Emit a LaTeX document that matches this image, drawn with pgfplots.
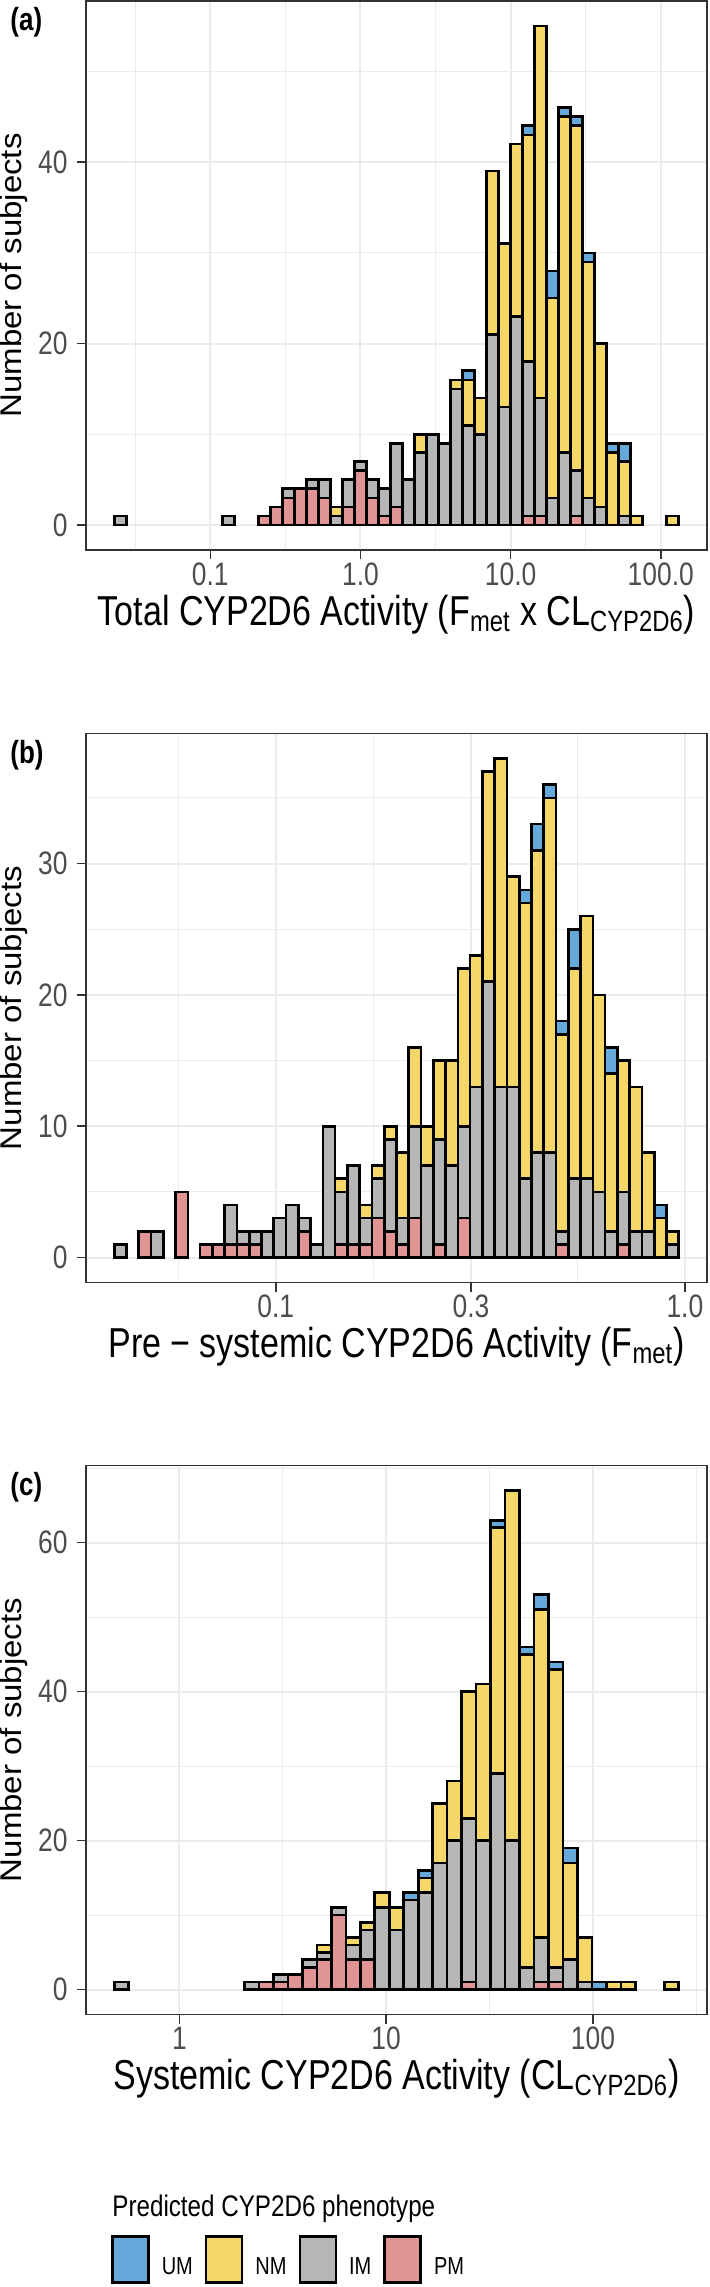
\documentclass[border=0pt]{standalone}
\usepackage{fontspec}
\setmainfont{Liberation Sans}
\usepackage{graphicx}
\usepackage{pgfplots}
\pgfplotsset{compat=1.18}
\usepackage{pgfplotstable}

\definecolor{cUM}{HTML}{64A9DA}
\definecolor{cNM}{HTML}{F4D766}
\definecolor{cIM}{HTML}{B6B6B6}
\definecolor{cPM}{HTML}{E09494}
\definecolor{gridc}{HTML}{EBEBEB}
\definecolor{framec}{HTML}{333333}
\definecolor{tickc}{HTML}{4D4D4D}

\newcommand{\vs}{1.23}
% tick label, axis title, rotated axis title, tag, legend text
\newcommand{\tl}[1]{{\fontsize{13.2}{15}\selectfont\color{tickc}\scalebox{1}[\vs]{#1}}}
\newcommand{\xt}[1]{{\fontsize{17}{20}\selectfont\scalebox{1}[\vs]{#1}}}
\newcommand{\yt}[1]{{\fontsize{15}{18}\selectfont\scalebox{1.1}[1]{#1}}}
\newcommand{\tg}[1]{{\fontsize{13}{15}\selectfont\bfseries\scalebox{1}[\vs]{#1}}}
\newcommand{\lt}[1]{{\fontsize{10}{12}\selectfont\scalebox{1}[\vs]{#1}}}

% Panel (a): x = log10 bin centre
\pgfplotstableread{
x pm im nm um
-1.60 0 1 0 0
-1.52 0 0 0 0
-1.44 0 0 0 0
-1.36 0 0 0 0
-1.28 0 0 0 0
-1.20 0 0 0 0
-1.12 0 0 0 0
-1.04 0 0 0 0
-0.96 0 0 0 0
-0.88 0 1 0 0
-0.80 0 0 0 0
-0.72 0 0 0 0
-0.64 1 0 0 0
-0.56 2 0 0 0
-0.48 3 1 0 0
-0.40 4 0 0 0
-0.32 4 1 0 0
-0.24 3 2 0 0
-0.16 0 1 1 0
-0.08 2 3 0 0
0.00 6 1 0 0
0.08 3 2 0 0
0.16 1 3 0 0
0.24 2 7 0 0
0.32 0 5 0 0
0.40 0 8 2 0
0.48 0 10 0 0
0.56 0 9 0 0
0.64 0 15 1 0
0.72 0 11 5 1
0.80 0 10 4 0
0.88 0 21 18 0
0.96 0 13 18 0
1.04 0 23 19 0
1.12 1 17 25 1
1.20 1 13 41 0
1.28 0 3 22 3
1.36 0 8 37 1
1.44 1 5 38 1
1.52 0 3 26 1
1.60 0 2 18 0
1.68 0 0 8 1
1.76 0 1 6 2
1.84 0 0 1 0
1.92 0 0 0 0
2.00 0 0 0 0
2.08 0 0 1 0
}\dataA

% Panel (b)
\pgfplotstableread{
x pm im nm um
-1.38 0 1 0 0
-1.35 0 0 0 0
-1.32 2 0 0 0
-1.29 0 2 0 0
-1.26 0 0 0 0
-1.23 5 0 0 0
-1.20 0 0 0 0
-1.17 1 0 0 0
-1.14 1 0 0 0
-1.11 1 3 0 0
-1.08 1 1 0 0
-1.05 1 1 0 0
-1.02 0 2 0 0
-0.99 0 3 0 0
-0.96 0 4 0 0
-0.93 2 1 0 0
-0.90 0 1 0 0
-0.87 0 10 0 0
-0.84 1 4 1 0
-0.81 1 6 0 0
-0.78 1 2 1 0
-0.75 3 3 1 0
-0.72 2 7 1 0
-0.69 1 2 5 0
-0.66 3 7 6 0
-0.63 0 7 3 0
-0.60 1 8 6 0
-0.57 0 7 8 0
-0.54 3 7 12 0
-0.51 0 13 10 0
-0.48 0 21 16 0
-0.45 0 13 25 0
-0.42 0 13 16 0
-0.39 0 6 21 1
-0.36 0 8 23 2
-0.33 0 8 27 1
-0.30 1 1 15 1
-0.27 0 6 16 3
-0.24 0 6 20 0
-0.21 0 5 15 0
-0.18 0 2 12 2
-0.15 1 4 10 0
-0.12 0 2 11 0
-0.09 0 2 6 0
-0.06 0 0 3 1
-0.03 0 1 1 0
}\dataB

% Panel (c)
\pgfplotstableread{
x pm im nm um
-0.28 0 1 0 0
-0.21 0 0 0 0
-0.14 0 0 0 0
-0.07 0 0 0 0
0.00 0 0 0 0
0.07 0 0 0 0
0.14 0 0 0 0
0.21 0 0 0 0
0.28 0 0 0 0
0.35 0 1 0 0
0.42 1 0 0 0
0.49 1 1 0 0
0.56 2 0 0 0
0.63 3 1 0 0
0.70 4 1 1 0
0.77 10 1 0 0
0.84 4 2 1 0
0.91 4 4 1 0
0.98 0 11 2 0
1.05 0 8 3 0
1.12 0 12 0 1
1.19 0 13 2 1
1.26 0 17 8 0
1.33 0 20 8 0
1.40 1 22 17 0
1.47 0 20 21 0
1.54 0 29 33 1
1.61 0 20 47 0
1.68 0 3 42 1
1.75 1 6 44 2
1.82 1 2 40 1
1.89 0 4 13 2
1.96 0 1 6 0
2.03 0 0 0 1
2.10 0 0 1 0
2.17 0 0 1 0
2.24 0 0 0 0
2.31 0 0 0 0
2.38 0 0 1 0
}\dataC

\pgfplotsset{
  histo/.style={
    scale only axis, width=310.5pt, height=274.5pt,
    anchor=north west,
    ybar stacked,
    axis line style={framec, line width=0.8pt},
    tick style={framec, line width=0.8pt},
    major tick length=4.5pt,
    minor tick length=0pt,
    tick align=outside,
    tick pos=left,
    grid=both,
    major grid style={gridc, line width=1pt},
    minor grid style={gridc, line width=0.5pt},
    xticklabel style={anchor=north, inner sep=0pt, yshift=-1.5pt},
    yticklabel style={anchor=east, inner sep=0pt, xshift=-4.5pt},
    every axis y label/.style={at={(rel axis cs:-0.1167,0.5)}, rotate=90, anchor=center, inner sep=0pt},
    every axis x label/.style={at={(rel axis cs:0.5,-0.1366)}, anchor=base, inner sep=0pt},
    ylabel={\yt{Number of subjects}},
    every axis plot/.append style={draw=black, line width=1.3pt},
  }
}

\begin{document}
\begin{tikzpicture}
\useasboundingbox (0pt,0pt) rectangle (354.5pt,-1143.5pt);

% ---------- (a)
\begin{axis}[histo, at={(43pt,-0.5pt)},
  xmin=-1.828, xmax=2.308, ymin=-2.75, ymax=57.75,
  bar width=0.08,
  xtick={-1,0,1,2}, xticklabels={\tl{0.1},\tl{1.0},\tl{10.0},\tl{100.0}},
  minor xtick={-1.5,-0.5,0.5,1.5},
  ytick={0,20,40}, yticklabels={\tl{0},\tl{20},\tl{40}},
  minor ytick={10,30,50},
  xlabel={\xt{Total CYP2D6 Activity (F\textsubscript{met} x CL\textsubscript{CYP2D6})}},
]
\addplot[fill=cPM] table[x=x,y=pm]{\dataA};
\addplot[fill=cIM] table[x=x,y=im]{\dataA};
\addplot[fill=cNM] table[x=x,y=nm]{\dataA};
\addplot[fill=cUM] table[x=x,y=um]{\dataA};
\end{axis}

% ---------- (b)
\begin{axis}[histo, at={(43pt,-366.75pt)},
  xmin=-1.464, xmax=0.054, ymin=-1.9, ymax=39.9,
  bar width=0.03,
  xtick={-1,-0.5229,0}, xticklabels={\tl{0.1},\tl{0.3},\tl{1.0}},
  minor xtick={-1.2386,-0.7614,-0.2614},
  ytick={0,10,20,30}, yticklabels={\tl{0},\tl{10},\tl{20},\tl{30}},
  minor ytick={5,15,25,35},
  xlabel={\xt{Pre − systemic CYP2D6 Activity (F\textsubscript{met})}},
]
\addplot[fill=cPM] table[x=x,y=pm]{\dataB};
\addplot[fill=cIM] table[x=x,y=im]{\dataB};
\addplot[fill=cNM] table[x=x,y=nm]{\dataB};
\addplot[fill=cUM] table[x=x,y=um]{\dataB};
\end{axis}

% ---------- (c)
\begin{axis}[histo, at={(43pt,-732.75pt)},
  xmin=-0.4515, xmax=2.5515, ymin=-3.35, ymax=70.35,
  bar width=0.07,
  xtick={0,1,2}, xticklabels={\tl{1},\tl{10},\tl{100}},
  minor xtick={0.5,1.5,2.5},
  ytick={0,20,40,60}, yticklabels={\tl{0},\tl{20},\tl{40},\tl{60}},
  minor ytick={10,30,50,70},
  xlabel={\xt{Systemic CYP2D6 Activity (CL\textsubscript{CYP2D6})}},
  legend image code/.code={\draw[#1] (0pt,-7.5pt) rectangle (18pt,15.5pt);},
  legend style={at={(0.0399,-0.4013)}, anchor=north west, draw=none, fill=none,
    inner sep=0pt, legend columns=4, column sep=4pt,
    font=\fontsize{10}{12}\selectfont},
  legend cell align=left,
  reverse legend,
]
\addplot[fill=cPM] table[x=x,y=pm]{\dataC};
\addlegendentry{\lt{PM}}
\addplot[fill=cIM] table[x=x,y=im]{\dataC};
\addlegendentry{\lt{IM}}
\addplot[fill=cNM] table[x=x,y=nm]{\dataC};
\addlegendentry{\lt{NM}}
\addplot[fill=cUM] table[x=x,y=um]{\dataC};
\addlegendentry{\lt{UM}}
\end{axis}

% panel tags and legend title
\node[anchor=north west, inner sep=0pt] at (5pt,-3.5pt) {\tg{(a)}};
\node[anchor=north west, inner sep=0pt] at (5pt,-369.75pt) {\tg{(b)}};
\node[anchor=north west, inner sep=0pt] at (5pt,-735.75pt) {\tg{(c)}};
\node[anchor=base west, inner sep=0pt] at (56pt,-1108pt) {{\fontsize{12.1}{14}\selectfont\scalebox{1}[\vs]{Predicted CYP2D6 phenotype}}};
\end{tikzpicture}
\end{document}
